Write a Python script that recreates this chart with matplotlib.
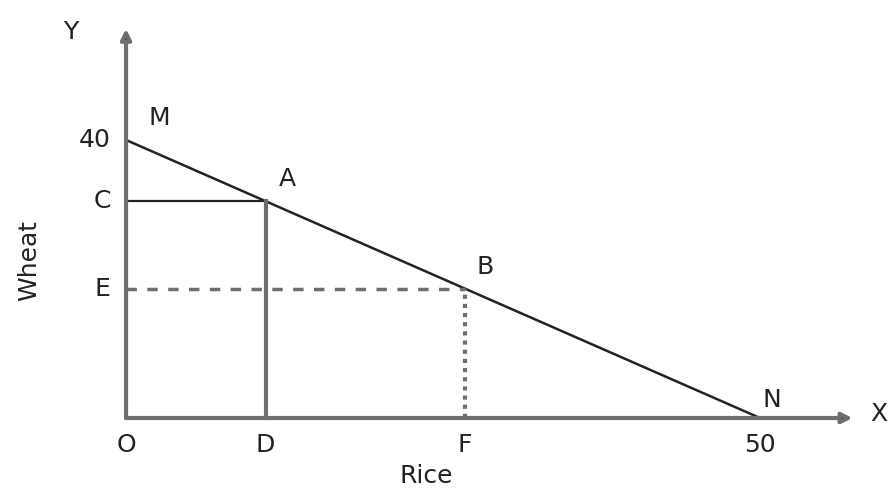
import matplotlib
matplotlib.use("Agg")
import matplotlib.pyplot as plt

# Budget line endpoints (Rice on x, Wheat on y)
line_x = [0, 50]
line_y = [40, 0]
# Points on the line
A = (11.0, 31.2)
B = (26.7, 18.6)
# Axis labels / tick-ish labels
x_labels = ["O", "D", "F", "50"]
x_label_pos = [0, A[0], B[0], 50]
y_labels = ["40", "C", "E"]
y_label_pos = [40, A[1], B[1]]

fig = plt.figure(figsize=(8.92, 4.88), dpi=100)
ax = fig.add_axes([0, 0, 1, 1])
ax.set_xlim(-9.94, 60.41)
ax.set_ylim(-10.07, 60.14)
ax.axis("off")

fs = 18
axis_col = "#6e6e6e"
dark = "#222222"

# Axes with arrows
ax.annotate("", xy=(0, 56.0), xytext=(0, 0),
            arrowprops=dict(arrowstyle="-|>", lw=3, mutation_scale=15,
                            shrinkA=0, shrinkB=0, fc="#222222", ec=axis_col))
ax.annotate("", xy=(57.3, 0), xytext=(0, 0),
            arrowprops=dict(arrowstyle="-|>", lw=3, mutation_scale=15,
                            shrinkA=0, shrinkB=0, fc="#222222", ec=axis_col))

# Budget line MN
ax.plot(line_x, line_y, color=dark, lw=1.8, solid_capstyle="butt")

# A: horizontal C-A (thin), vertical A-D (thick gray)
ax.plot([0, A[0]], [A[1], A[1]], color=dark, lw=1.6)
ax.plot([A[0], A[0]], [0, A[1]], color=axis_col, lw=3)

# B: dashed E-B, dotted F-B
ax.plot([0, B[0]], [B[1], B[1]], color=axis_col, lw=2.5, linestyle=(0, (3, 3)))
ax.plot([B[0], B[0]], [0, B[1]], color=axis_col, lw=3, linestyle=(0, (1, 1.2)))

# Point labels
ax.text(2.6, 43.2, "M", fontsize=fs, ha="center", va="center", color=dark)
ax.text(12.7, 34.4, "A", fontsize=fs, ha="center", va="center", color=dark)
ax.text(28.3, 21.7, "B", fontsize=fs, ha="center", va="center", color=dark)
ax.text(50.9, 2.6, "N", fontsize=fs, ha="center", va="center", color=dark)
ax.text(-4.4, 55.6, "Y", fontsize=fs, ha="center", va="center", color=dark)
ax.text(59.4, 0.6, "X", fontsize=fs, ha="center", va="center", color=dark)

for lab, p in zip(x_labels, x_label_pos):
    ax.text(p, -3.9, lab, fontsize=fs, ha="center", va="center", color=dark)
for lab, p in zip(y_labels, y_label_pos):
    ax.text(-1.2, p, lab, fontsize=fs, ha="right", va="center", color=dark)

ax.text(23.7, -8.3, "Rice", fontsize=fs, ha="center", va="center", color=dark)
ax.text(-7.6, 22.7, "Wheat", fontsize=fs, ha="center", va="center", rotation=90, color=dark)

fig.savefig("out.png", dpi=100)
